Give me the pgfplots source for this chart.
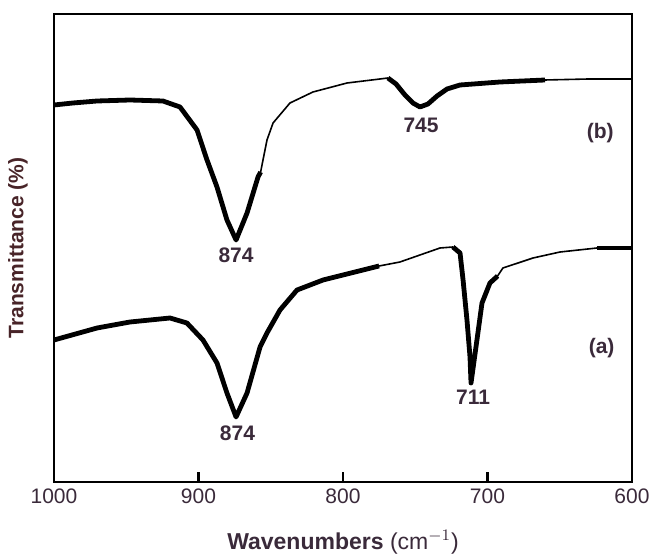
\documentclass[border=0pt]{standalone}
\usepackage{fontspec}
\setmainfont{Liberation Sans}
\usepackage{pgfplots}
\pgfplotsset{compat=1.18}
\usetikzlibrary{calc}
\definecolor{txt}{RGB}{58,42,58}
\definecolor{ytxt}{RGB}{72,36,40}
\begin{document}
\begin{tikzpicture}
\begin{axis}[
  scale only axis, width=289pt, height=234pt,
  x dir=reverse, xmin=600, xmax=1000, ymin=0, ymax=468,
  xtick={600,700,800,900,1000},
  xticklabels={600,700,800,900,1000},
  ytick=\empty,
  tick align=inside, xtick pos=bottom, major tick length=5pt,
  axis line style={line width=1pt},
  every tick/.style={line width=1.2pt, black},
  xticklabel style={font=\fontsize{10.5}{12}\selectfont, text=txt},
  xlabel={\textbf{Wavenumbers} (cm$^{-1}$)},
  ylabel={\textbf{Transmittance (\%)}},
  xlabel style={at={(axis description cs:0.5,0)}, anchor=center, yshift=-30pt, font=\fontsize{11.5}{13}\selectfont, text=txt},
  ylabel style={at={(axis description cs:0,0.5)}, anchor=center, yshift=18pt, font=\fontsize{10.5}{12}\selectfont, text=ytxt},
  clip=false,
]
% (b) spectrum
\addplot[black, line width=2.4pt, line join=round] coordinates {
(1000,377) (986.9,379) (970.2,381) (947.4,382) (924.6,381) (912.8,375) (901.0,352) (894.1,322) (887.2,295) (880.3,262) (874.0,242) (866.4,269) (858.8,305) (857,310)};
\addplot[black, line width=0.8pt] coordinates {
(857,310) (852.6,342) (848.4,359) (836.7,379) (820.8,390) (797.2,399) (774.4,403) (768.9,404)};
\addplot[black, line width=2.4pt, line join=round] coordinates {
(768.9,404) (763.3,398) (757.1,387) (751.6,379) (746.7,375) (741.2,378) (734.9,386) (728.0,393) (719.0,397) (691.3,400) (660.2,402)};
\addplot[black, line width=0.8pt] coordinates {
(660.2,402) (630,403) (600,403)};
% (a) spectrum
\addplot[black, line width=2.4pt, line join=round] coordinates {
(1000,142) (970.2,154) (947.4,160) (919.7,164) (908.0,159) (896.9,142) (887.2,119) (880.3,89) (874.0,65) (866.4,89) (857.4,135) (852.6,149) (843.6,172) (831.8,192) (813.8,202) (786.2,212) (775,216)};
\addplot[black, line width=0.8pt] coordinates {
(775,216) (760.6,220) (732.9,234) (723.9,235)};
\addplot[black, line width=2.4pt, line join=round] coordinates {
(723.9,235) (719.0,229) (716.9,202) (714.2,162) (712.1,125) (711.4,99) (707.3,142) (703.8,179) (698.3,199) (693,206)};
\addplot[black, line width=0.8pt] coordinates {
(693,206) (689.3,214) (668.5,224) (649.8,230) (624.2,234)};
\addplot[black, line width=2.4pt] coordinates {
(624.2,234) (600,234)};
% annotations
\node[font=\bfseries\fontsize{10.5}{12}\selectfont, text=txt] at (axis cs:874,227) {874};
\node[font=\bfseries\fontsize{10.5}{12}\selectfont, text=txt] at (axis cs:746,357) {745};
\node[font=\bfseries\fontsize{10.5}{12}\selectfont, text=txt] at (axis cs:873,49) {874};
\node[font=\bfseries\fontsize{10.5}{12}\selectfont, text=txt] at (axis cs:710,85) {711};
\node[font=\bfseries\fontsize{10.5}{12}\selectfont, text=txt] at (axis cs:622,349) {(b)};
\node[font=\bfseries\fontsize{10.5}{12}\selectfont, text=txt] at (axis cs:621,134) {(a)};
\end{axis}
\pgfresetboundingbox
\path[use as bounding box] ($(current axis.south west)+(-27pt,-37pt)$) rectangle ++(326pt,278pt);
\end{tikzpicture}
\end{document}
